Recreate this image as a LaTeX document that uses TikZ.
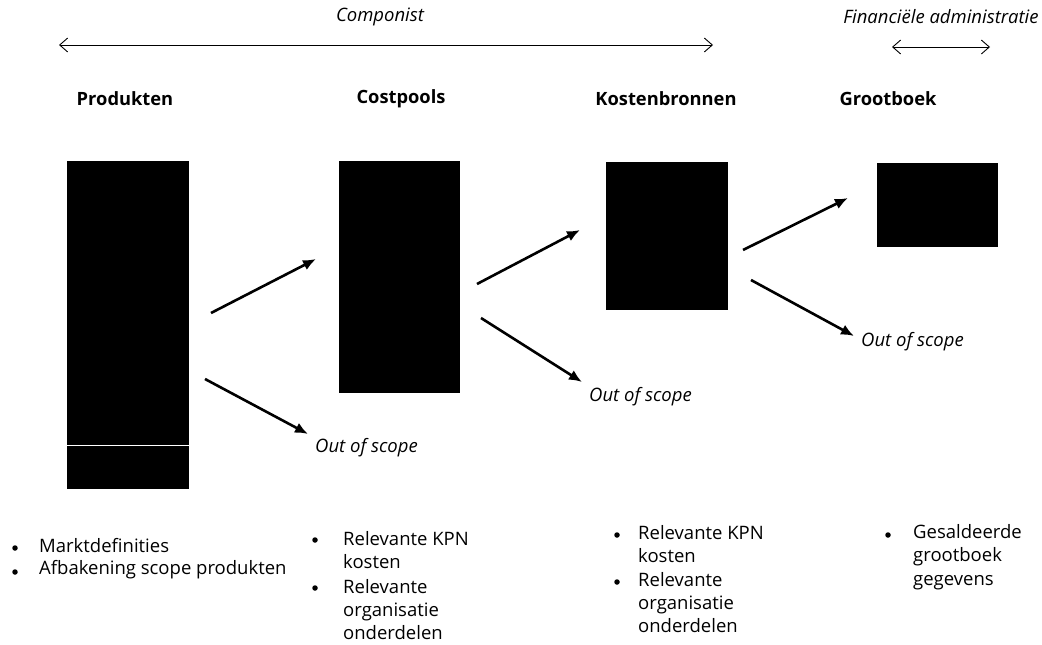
\documentclass[tikz,border=0pt]{standalone}
\usepackage{fontspec}
\setmainfont{Open Sans}
\usetikzlibrary{arrows.meta}

\tikzset{
	blok/.style={fill=black, draw=none, inner sep=0pt},
	kop/.style={font=\bfseries\fontsize{18.3}{22}\selectfont},
	schuin/.style={font=\itshape\fontsize{18.5}{22}\selectfont},
	lijst/.style={font=\fontsize{18.5}{23.3}\selectfont, align=left, inner sep=0pt, anchor=west},
	punt/.style={circle, fill=black, inner sep=0pt, minimum size=5.5pt},
	pijl/.style={-{Latex[length=13pt,width=11pt]}, line width=2.6pt},
	bereik/.style={{Straight Barb[length=8pt,width=14pt]}-{Straight Barb[length=8pt,width=14pt]}, line width=0.9pt},
}

\begin{document}
\begin{tikzpicture}[x=1pt,y=-1pt]
	\useasboundingbox (0,0) rectangle (1042,645);

	%top ranges
	\node[schuin] (compo) at (380,17) {Componist};
	\coordinate (compoL) at (59,45);
	\coordinate (compoR) at (713,45);
	\draw[bereik] (compoL) -- (compoR);

	\node[schuin] (finadm) at (941,17) {Financiële administratie};
	\coordinate (finL) at (892,47);
	\coordinate (finR) at (990,47);
	\draw[bereik] (finL) -- (finR);

	%headers
	\node[kop] (hprod) at (125,99) {Produkten};
	\node[kop] (hcost) at (401,99) {Costpools};
	\node[kop] (hkost) at (666,99) {Kostenbronnen};
	\node[kop] (hgroot) at (888,99) {Grootboek};

	%blocks
	\node[blok, minimum width=122pt, minimum height=328pt] (prod) at (128,325) {};
	\draw[white, line width=1pt] (prod.west |- 0,445) -- (prod.east |- 0,445);
	\node[blok, minimum width=121pt, minimum height=232pt] (cost) at (399.5,277) {};
	\node[blok, minimum width=122pt, minimum height=148pt] (kost) at (667,236) {};
	\node[blok, minimum width=121pt, minimum height=84pt] (groot) at (937.5,205) {};

	%out of scope
	\node[schuin, anchor=west, inner sep=0pt] (oos1) at (315,448) {Out of scope};
	\node[schuin, anchor=west, inner sep=0pt] (oos2) at (589,397) {Out of scope};
	\node[schuin, anchor=west, inner sep=0pt] (oos3) at (861,342) {Out of scope};

	%arrows
	\coordinate (p1s) at (211,313);	\coordinate (p1e) at (316,259);
	\coordinate (p2s) at (205,379);	\coordinate (p2e) at (308,434);
	\coordinate (c1s) at (477,284);	\coordinate (c1e) at (580,230);
	\coordinate (c2s) at (481,318);	\coordinate (c2e) at (582,382);
	\coordinate (k1s) at (743,250);	\coordinate (k1e) at (848,198);
	\coordinate (k2s) at (751,280);	\coordinate (k2e) at (854,336);
	\draw[pijl] (p1s) -- (p1e);		%produkten--costpools
	\draw[pijl] (p2s) -- (p2e);		%produkten--out of scope
	\draw[pijl] (c1s) -- (c1e);		%costpools--kostenbronnen
	\draw[pijl] (c2s) -- (c2e);		%costpools--out of scope
	\draw[pijl] (k1s) -- (k1e);		%kostenbronnen--grootboek
	\draw[pijl] (k2s) -- (k2e);		%kostenbronnen--out of scope

	%bullets
	\node[punt] (b11) at (15,548) {};
	\node[lijst] (t11) at (39,546) {Marktdefinities};
	\node[punt] (b12) at (15,572) {};
	\node[lijst] (t12) at (39,570) {Afbakening scope produkten};

	\node[punt] (b21) at (315,540) {};
	\node[lijst] (t21) at (343,550) {Relevante KPN\\kosten};
	\node[punt] (b22) at (315,588) {};
	\node[lijst] (t22) at (343,609.5) {Relevante\\organisatie\\onderdelen};

	\node[punt] (b31) at (617,535) {};
	\node[lijst] (t31) at (638,544) {Relevante KPN\\kosten};
	\node[punt] (b32) at (617,582) {};
	\node[lijst] (t32) at (638,602.5) {Relevante\\organisatie\\onderdelen};

	\node[punt] (b41) at (888,535) {};
	\node[lijst] (t41) at (913,557) {Gesaldeerde\\grootboek\\gegevens};
\end{tikzpicture}
\end{document}
